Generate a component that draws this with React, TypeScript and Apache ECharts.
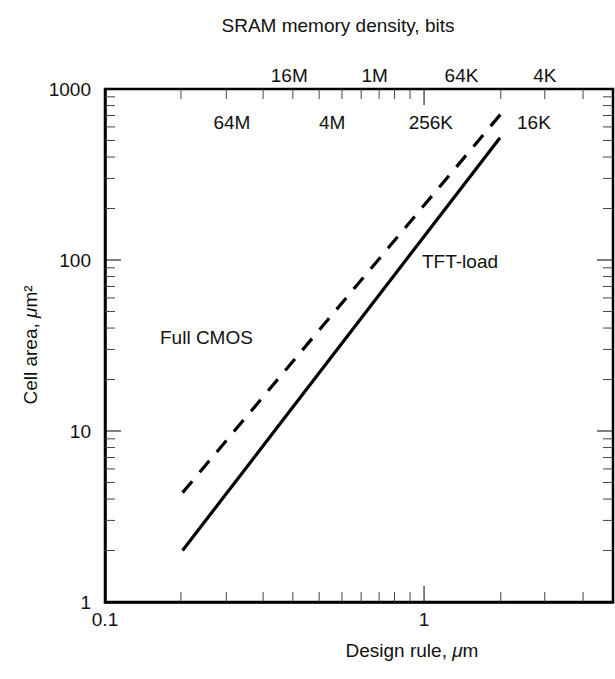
import React, { useEffect, useRef } from "react";
import * as echarts from "echarts";

// Axis ranges (design rule in µm, cell area in µm²)
const xRange = [0.1, 3.91];
const yRange = [1, 1000];

// Line endpoints: [design rule, cell area]
const tftLoadX = [0.175, 1.73];
const tftLoadY = [2.0, 519];
const fullCmosX = [0.175, 1.74];
const fullCmosY = [4.36, 714];

// Tick values
const xMajorTicks = [1];
const xMinorTicks = [0.173, 0.24, 0.313, 0.388, 0.469, 0.553, 0.635, 0.723, 0.808, 0.904, 1.74, 2.39, 3.15];
const yMajorTicks = [10, 100];
const yMinorTicks = [2, 3, 4, 5, 6, 7, 8, 9, 20, 30, 40, 50, 60, 70, 80, 90, 200, 300, 400, 500, 600, 700, 800, 900];

// SRAM memory density labels along the top (two staggered rows)
const densityUpperLabels = ["16M", "1M", "64K", "4K"];
const densityUpperX = [0.378, 0.70, 1.31, 2.39];
const densityLowerLabels = ["64M", "4M", "256K", "16K"];
const densityLowerX = [0.25, 0.515, 1.05, 2.21];

const FONT = "'Liberation Sans', Arial, Helvetica, sans-serif";
const INK = "#111";

function isPow10(v: number) {
  const l = Math.log10(v);
  return Math.abs(l - Math.round(l)) < 1e-6;
}

export default function App() {
  const ref = useRef<HTMLDivElement>(null);
  useEffect(() => {
    if (!ref.current) return;
    const chart = echarts.init(ref.current, undefined, { renderer: "svg" });

    const xTickData = [
      ...xMinorTicks.map((v) => [v, yRange[0], 0]),
      ...xMajorTicks.map((v) => [v, yRange[0], 1]),
    ];
    const yTickData = [
      ...yMinorTicks.map((v) => [xRange[0], v, 0]),
      ...yMajorTicks.map((v) => [xRange[0], v, 1]),
    ];

    const tickStyle = (major: boolean) => ({
      stroke: major ? "#000" : "#444",
      lineWidth: 1,
    });

    const densitySeries = (labels: string[], xs: number[], offset: number) => ({
      type: "custom",
      clip: false,
      silent: true,
      data: xs.map((x) => [x, yRange[1]]),
      renderItem: (params: any, api: any) => {
        const cs = params.coordSys;
        const p = api.coord([api.value(0), api.value(1)]);
        return {
          type: "text",
          x: p[0],
          y: cs.y + offset,
          style: {
            text: labels[params.dataIndex],
            fontSize: 19,
            fontFamily: FONT,
            fill: INK,
            align: "center",
            verticalAlign: "middle",
          },
        };
      },
    });

    chart.setOption({
      animation: false,
      backgroundColor: "#fff",
      grid: {
        left: 105,
        right: 2,
        top: 89,
        bottom: 77,
        show: true,
        borderColor: "#000",
        borderWidth: 2.5,
        backgroundColor: "transparent",
      },
      xAxis: {
        type: "log",
        min: xRange[0],
        max: xRange[1],
        logBase: 10,
        axisLine: { show: true, onZero: false, lineStyle: { color: "#000", width: 2.5 } },
        axisTick: { show: false },
        splitLine: { show: false },
        minorTick: { show: false },
        axisLabel: {
          formatter: (v: number) => (isPow10(v) ? String(v) : ""),
          fontSize: 19,
          fontFamily: FONT,
          color: INK,
          margin: 8,
          showMaxLabel: false,
        },
      },
      yAxis: {
        type: "log",
        min: yRange[0],
        max: yRange[1],
        logBase: 10,
        axisLine: { show: true, onZero: false, lineStyle: { color: "#000", width: 2.5 } },
        axisTick: { show: false },
        splitLine: { show: false },
        axisLabel: {
          formatter: (v: number) => (isPow10(v) ? String(Math.round(v)) : ""),
          fontSize: 19,
          fontFamily: FONT,
          color: INK,
          margin: 14,
        },
      },
      graphic: [
        {
          type: "text",
          x: 338,
          y: 25,
          style: {
            text: "SRAM memory density, bits",
            fontSize: 19,
            fontFamily: FONT,
            fill: INK,
            align: "center",
            verticalAlign: "middle",
          },
        },
        {
          type: "text",
          x: 412,
          y: 650,
          style: {
            text: "Design rule, {mu|μ}m",
            fontSize: 19,
            fontFamily: FONT,
            fill: INK,
            align: "center",
            verticalAlign: "middle",
            rich: { mu: { fontSize: 19, fontFamily: FONT, fontStyle: "italic", fill: INK } },
          },
        },
        {
          type: "text",
          x: 30,
          y: 345,
          rotation: Math.PI / 2,
          style: {
            text: "Cell area, {mu|μ}m²",
            fontSize: 19,
            fontFamily: FONT,
            fill: INK,
            align: "center",
            verticalAlign: "middle",
            rich: { mu: { fontSize: 19, fontFamily: FONT, fontStyle: "italic", fill: INK } },
          },
        },
        {
          type: "text",
          x: 160,
          y: 337,
          style: {
            text: "Full CMOS",
            fontSize: 19,
            fontFamily: FONT,
            fill: INK,
            align: "left",
            verticalAlign: "middle",
          },
        },
        {
          type: "text",
          x: 422,
          y: 261,
          style: {
            text: "TFT-load",
            fontSize: 19,
            fontFamily: FONT,
            fill: INK,
            align: "left",
            verticalAlign: "middle",
          },
        },
      ],
      series: [
        {
          name: "TFT-load",
          type: "line",
          symbol: "none",
          data: tftLoadX.map((x, i) => [x, tftLoadY[i]]),
          lineStyle: { color: "#000", width: 3.2, type: "solid" },
        },
        {
          name: "Full CMOS",
          type: "line",
          symbol: "none",
          data: fullCmosX.map((x, i) => [x, fullCmosY[i]]),
          lineStyle: { color: "#000", width: 3.2, type: [15, 11.6] },
        },
        {
          type: "custom",
          clip: false,
          silent: true,
          data: xTickData,
          renderItem: (params: any, api: any) => {
            const cs = params.coordSys;
            const p = api.coord([api.value(0), api.value(1)]);
            const major = api.value(2) === 1;
            const len = major ? 16 : 10;
            const bottom = cs.y + cs.height;
            return {
              type: "group",
              children: [
                { type: "line", shape: { x1: p[0], y1: bottom, x2: p[0], y2: bottom - len }, style: tickStyle(major) },
                { type: "line", shape: { x1: p[0], y1: cs.y, x2: p[0], y2: cs.y + len }, style: tickStyle(major) },
              ],
            };
          },
        },
        {
          type: "custom",
          clip: false,
          silent: true,
          data: yTickData,
          renderItem: (params: any, api: any) => {
            const cs = params.coordSys;
            const p = api.coord([api.value(0), api.value(1)]);
            const major = api.value(2) === 1;
            const len = major ? 16 : 10;
            const right = cs.x + cs.width;
            return {
              type: "group",
              children: [
                { type: "line", shape: { x1: cs.x, y1: p[1], x2: cs.x + len, y2: p[1] }, style: tickStyle(major) },
                { type: "line", shape: { x1: right, y1: p[1], x2: right - len, y2: p[1] }, style: tickStyle(major) },
              ],
            };
          },
        },
        densitySeries(densityUpperLabels, densityUpperX, -14),
        densitySeries(densityLowerLabels, densityLowerX, 33),
      ],
    });

    return () => chart.dispose();
  }, []);

  return (
    <div
      ref={ref}
      style={{ position: "absolute", left: 0, top: 0, width: 615, height: 679, background: "#fff" }}
    />
  );
}
